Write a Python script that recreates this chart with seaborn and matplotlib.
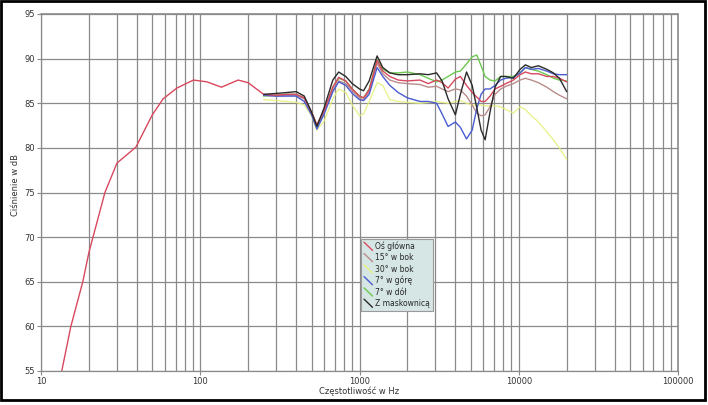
import numpy as np
import pandas as pd
import seaborn as sns
import matplotlib.pyplot as plt
from matplotlib.lines import Line2D
from matplotlib.legend_handler import HandlerBase
from matplotlib.patches import Rectangle

# --- dane ---
# oś główna ma dodatkowo pomiar niskich częstotliwości
freq_low = [13.5, 15.4, 18.3, 20, 25.2, 30, 35, 39.5, 45, 50, 58.5, 71.3, 90.6, 110, 136, 173, 200]
spl_low = [55.0, 60.0, 65.0, 68.3, 75.0, 78.3, 79.3, 80.1, 82.1, 83.7, 85.5, 86.7, 87.6, 87.4, 86.8, 87.6, 87.3]

freq = [250, 300, 350, 400, 450, 500, 540, 600, 680, 740, 820, 900, 1000, 1060, 1150,
        1290, 1400, 1550, 1750, 2000, 2400, 2700, 3050, 3300, 3600, 4000, 4300, 4700,
        5100, 5450, 5800, 6150, 6600, 7100, 7700, 8300, 9250, 10200, 11000, 12000,
        13300, 15000, 16500, 18000, 20000]

os_glowna = [86.0, 85.9, 86.0, 86.0, 85.6, 84.0, 82.6, 84.2, 86.8, 87.9, 87.5, 86.6, 85.8, 85.6, 86.5,
             89.8, 88.6, 88.0, 87.6, 87.5, 87.6, 87.2, 87.6, 87.3, 86.7, 87.7, 88.0, 87.0,
             86.2, 85.7, 85.2, 85.2, 85.8, 86.6, 86.9, 87.2, 87.6, 88.2, 88.5, 88.3,
             88.3, 88.0, 88.0, 87.8, 87.4]
bok_15 = [85.9, 85.8, 85.9, 85.9, 85.5, 84.0, 82.5, 84.0, 86.4, 87.5, 87.2, 86.4, 85.6, 85.3, 86.3,
          89.5, 88.3, 87.6, 87.3, 87.2, 87.1, 86.8, 86.9, 86.6, 86.3, 86.6, 86.5, 85.8,
          84.8, 83.9, 83.6, 83.7, 84.6, 86.0, 86.6, 86.9, 87.2, 87.6, 87.8, 87.6,
          87.3, 86.8, 86.3, 85.9, 85.5]
bok_30 = [85.4, 85.3, 85.2, 85.1, 84.8, 83.6, 82.0, 83.0, 85.5, 86.6, 86.2, 84.8, 83.6, 83.8, 85.2,
          87.3, 87.0, 85.4, 85.2, 85.1, 85.0, 85.1, 85.2, 85.1, 85.0, 85.2, 85.3, 85.0,
          84.8, 84.8, 84.8, 84.7, 84.7, 84.7, 84.6, 84.3, 83.9, 84.6, 84.3, 83.6,
          82.9, 81.8, 80.9, 80.0, 78.7]
gora_7 = [85.9, 85.8, 85.8, 85.8, 85.2, 83.7, 82.1, 83.8, 86.3, 87.4, 87.0, 86.1, 85.4, 85.3, 86.0,
          89.0, 88.0, 87.0, 86.2, 85.6, 85.2, 85.2, 85.0, 83.8, 82.4, 82.9, 82.3, 81.0,
          82.0, 84.4, 86.0, 86.6, 86.6, 87.0, 87.6, 87.8, 87.9, 88.4, 89.0, 88.8,
          88.9, 88.6, 88.3, 88.2, 88.2]
dol_7 = [85.8, 85.9, 86.0, 86.0, 85.6, 83.9, 82.4, 84.0, 86.8, 87.8, 87.5, 86.6, 85.8, 85.6, 86.6,
         89.9, 88.8, 88.4, 88.4, 88.5, 88.2, 87.8, 87.4, 87.6, 88.0, 88.5, 88.6, 89.4,
         90.2, 90.4, 89.2, 88.0, 87.6, 87.5, 88.0, 88.0, 88.0, 88.4, 89.0, 88.8,
         88.6, 88.2, 87.8, 87.6, 87.5]
maskownica = [86.0, 86.1, 86.2, 86.3, 85.8, 84.0, 82.4, 84.5, 87.6, 88.5, 88.0, 87.2, 86.6, 86.4, 87.5,
              90.3, 89.0, 88.4, 88.2, 88.2, 88.3, 88.2, 88.4, 87.5, 85.5, 83.7, 86.0, 88.5,
              87.0, 84.5, 82.0, 80.9, 84.0, 86.8, 88.0, 88.0, 87.8, 88.8, 89.3, 89.0,
              89.2, 88.8, 88.4, 87.8, 86.3]

series_names = ['Oś główna', '15° w bok', '30° w bok', '7° w górę', '7° w dół', 'Z maskownicą']
series_colors = ['#d8485e', '#b98c8c', '#e6f07c', '#4a5cd0', '#6cc850', '#2a2a2a']

# --- ramka danych w formacie długim ---
rows = []
for f, v in zip(freq_low, spl_low):
    rows.append({'freq': f, 'spl': v, 'seria': series_names[0]})
values = [os_glowna, bok_15, bok_30, gora_7, dol_7, maskownica]
for name, vals in zip(series_names, values):
    for f, v in zip(freq, vals):
        rows.append({'freq': f, 'spl': v, 'seria': name})
df = pd.DataFrame(rows)


class DiagonalHandler(HandlerBase):
    # ukośna kreska w legendzie, jak w oryginale
    def create_artists(self, legend, orig_handle, xdescent, ydescent, width, height, fontsize, trans):
        line = Line2D([-xdescent, -xdescent + width], [height - ydescent + 1, -ydescent - 1],
                      color=orig_handle.get_color(), lw=1.0)
        line.set_transform(trans)
        return [line]


sns.set_style('white')
plt.rcParams['font.family'] = ['DejaVu Sans']

fig = plt.figure(figsize=(7.08, 4.05), dpi=100)
ax = fig.add_axes([41 / 708, 1 - 371 / 405, 637 / 708, 357 / 405])

# kolejność rysowania: jasne linie pod spodem
draw_order = ['30° w bok', '7° w dół', '15° w bok', '7° w górę', 'Oś główna', 'Z maskownicą']
pal = dict(zip(series_names, series_colors))
for name in draw_order:
    sub = df[df['seria'] == name]
    sns.lineplot(data=sub, x='freq', y='spl', color=pal[name], ax=ax, lw=1.0,
                 estimator=None, sort=True, legend=False,
                 alpha=0.85 if name == '30° w bok' else 1.0)

ax.set_xscale('log')
ax.set_xlim(10, 100000)
ax.set_ylim(55, 95)
ax.set_yticks(np.arange(55, 96, 5))
ax.set_xticks([10, 100, 1000, 10000, 100000])
ax.set_xticklabels(['10', '100', '1000', '10000', '100000'])
ax.xaxis.set_minor_formatter(plt.NullFormatter())

ax.grid(True, which='both', axis='x', color='#8a8a8a', lw=0.9)
ax.grid(True, which='major', axis='y', color='#8a8a8a', lw=0.9)
ax.set_axisbelow(True)

for side in ['top', 'right']:
    ax.spines[side].set_visible(False)
for side in ['left', 'bottom']:
    ax.spines[side].set_color('#8a8a8a')
    ax.spines[side].set_linewidth(0.9)
# linia siatki przy 100000 i przy 95 dB
ax.axvline(100000, color='#8a8a8a', lw=1.2, clip_on=False)
ax.axhline(95, color='#8a8a8a', lw=1.2, clip_on=False)

ax.tick_params(axis='both', which='major', labelsize=6, colors='#8a8a8a', labelcolor='#333333',
               length=3, width=0.8, direction='out', left=True, bottom=True, pad=1.5)
ax.tick_params(axis='x', which='minor', length=0)

ax.set_xlabel('Częstotliwość w Hz', fontsize=6, color='#333333', labelpad=0.5)
ax.set_ylabel('Ciśnienie w dB', fontsize=6, color='#333333')
ax.yaxis.set_label_coords(-0.033, 0.52)

handles = [Line2D([0], [0], color=c) for c in series_colors]
leg = ax.legend(handles, series_names, handler_map={Line2D: DiagonalHandler()},
                loc='upper left', bbox_to_anchor=(0.497, 0.381), fontsize=5.5,
                frameon=True, fancybox=False, framealpha=1, facecolor='#d6e6e4',
                edgecolor='#9a9a9a', handlelength=1.1, handletextpad=0.35,
                labelspacing=0.3, borderpad=0.35)
leg.get_frame().set_linewidth(0.8)

# czarna ramka wokół całego obrazka
fig.patches.append(Rectangle((0.002, 0.012), 0.994, 0.985, transform=fig.transFigure,
                             fill=False, edgecolor='black', lw=2))

fig.savefig('out.png', dpi=100)
